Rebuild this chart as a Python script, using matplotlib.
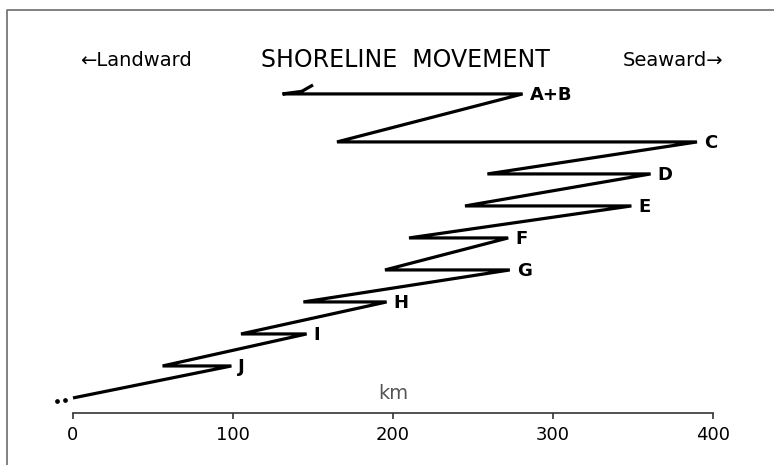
import matplotlib
matplotlib.use("Agg")
import matplotlib.pyplot as plt
from matplotlib.lines import Line2D

# ── Data: shoreline position (km) vs relative stratigraphic level ─────
shore_km = [0, 99, 56, 146, 105, 196, 144, 273, 195, 272, 210, 349, 245,
            361, 259, 390, 165, 281, 131, 143, 150]
shore_lvl = [0, 1, 1, 2, 2, 3, 3, 4, 4, 5, 5, 6, 6, 7, 7, 8, 8, 9.5, 9.5,
             9.58, 9.78]
lead_km = [-10, -5]
lead_lvl = [-0.1, -0.05]

event_labels = ["J", "I", "H", "G", "F", "E", "D", "C", "A+B"]
event_km = [99, 146, 196, 273, 272, 349, 361, 390, 281]
event_lvl = [1, 2, 3, 4, 5, 6, 7, 8, 9.5]

x_ticks = [0, 100, 200, 300, 400]

FONT = ["Liberation Sans Narrow", "DejaVu Sans"]
plt.rcParams["font.family"] = FONT

W, H = 774, 465
fig = plt.figure(figsize=(W / 100, H / 100), dpi=100)
fig.patch.set_facecolor("white")

# axes: x 0..400 from px 73..713, bottom spine at px 413
ax = fig.add_axes([73 / W, 1 - 413 / H, 640 / W, 353 / H])
ax.set_xlim(0, 400)
ax.set_ylim(-0.47, 10.56)

ax.plot(shore_km, shore_lvl, color="black", lw=2.3,
        solid_joinstyle="miter", solid_capstyle="butt", clip_on=False)
ax.plot(lead_km, lead_lvl, ls="none", marker="o", ms=2.4, color="black",
        clip_on=False)

for lab, xk, yl in zip(event_labels, event_km, event_lvl):
    ax.annotate(lab, xy=(xk, yl), xytext=(5, -1), textcoords="offset points",
                ha="left", va="center", fontsize=13, fontweight="bold",
                family=FONT)

for s in ["top", "left", "right"]:
    ax.spines[s].set_visible(False)
ax.spines["bottom"].set_color("#333333")
ax.spines["bottom"].set_linewidth(1.2)
ax.set_yticks([])
ax.set_xticks(x_ticks)
ax.set_xticklabels([str(t) for t in x_ticks])
ax.tick_params(axis="x", direction="out", length=4, width=1.2,
               color="#333333", pad=5, labelsize=13)

ax.annotate("km", xy=(200, 0), xycoords=("data", "axes fraction"),
            xytext=(0, 14), textcoords="offset points",
            ha="center", va="center", fontsize=14, color="#555555")

# header texts
fig.text(136 / W, 1 - 60 / H, "\u2190Landward", ha="center", va="center",
         fontsize=14, family=FONT)
fig.text(405 / W, 1 - 60 / H, "SHORELINE  MOVEMENT", ha="center",
         va="center", fontsize=17, family=FONT)
fig.text(673 / W, 1 - 60 / H, "Seaward\u2192", ha="center", va="center",
         fontsize=14, family=FONT)

# gray frame (top and left)
fig.add_artist(Line2D([7 / W, 7 / W, 1], [0, 1 - 10 / H, 1 - 10 / H],
                      transform=fig.transFigure, color="#777777", lw=1.3))

fig.savefig("out.png", dpi=100)
